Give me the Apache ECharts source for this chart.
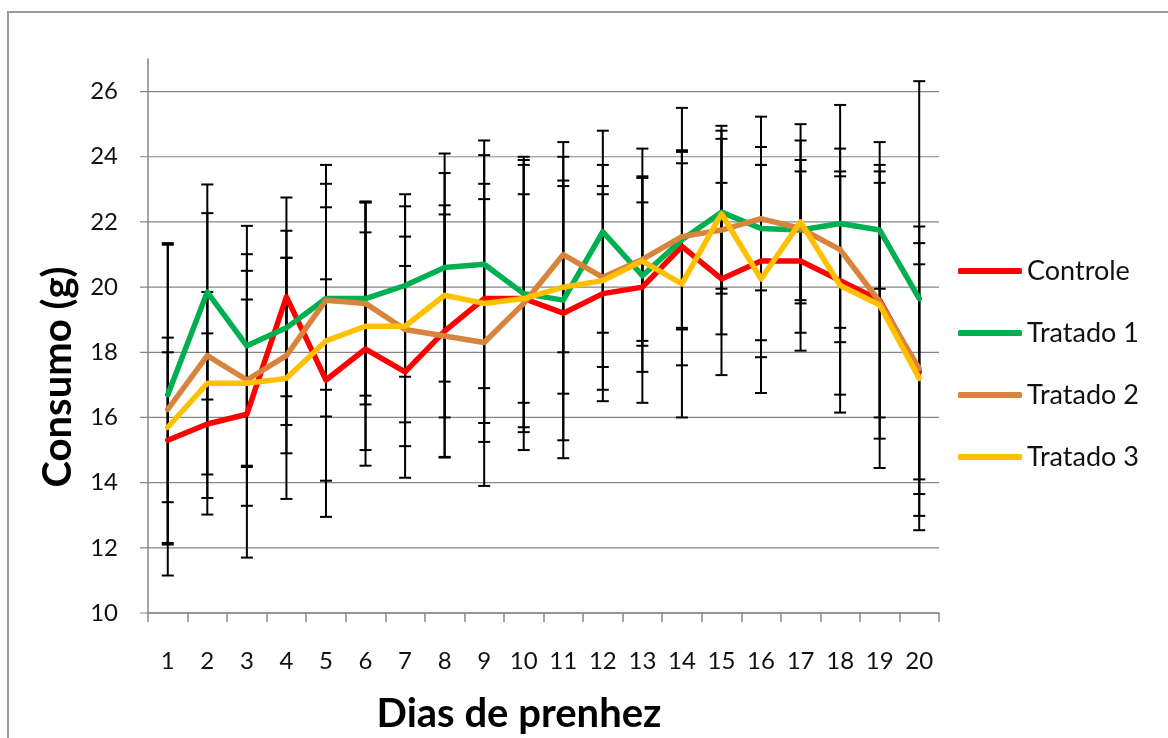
<!DOCTYPE html>
<html>
<head>
<meta charset="utf-8">
<script src="https://cdn.jsdelivr.net/npm/echarts@6/dist/echarts.min.js"></script>
<style>
  html, body { margin: 0; padding: 0; background: #fff; }
  #chart { width: 1168px; height: 738px; }
</style>
</head>
<body>
<div id="chart"></div>
<script>
// Dias de prenhez (categorias do eixo X)
const days = ['1','2','3','4','5','6','7','8','9','10','11','12','13','14','15','16','17','18','19','20'];

// Consumo médio (g) por grupo
const controle = [15.3, 15.8, 16.1, 19.7, 17.15, 18.1, 17.4, 18.65, 19.65, 19.65, 19.2, 19.8, 20.0, 21.25, 20.25, 20.8, 20.8, 20.2, 19.6, 17.4];
const tratado1 = [16.7, 19.85, 18.2, 18.75, 19.65, 19.65, 20.05, 20.6, 20.7, 19.8, 19.6, 21.7, 20.35, 21.45, 22.3, 21.8, 21.75, 21.95, 21.75, 19.65];
const tratado2 = [16.25, 17.9, 17.15, 17.9, 19.6, 19.5, 18.7, 18.5, 18.3, 19.5, 21.0, 20.3, 20.85, 21.55, 21.75, 22.1, 21.8, 21.15, 19.55, 17.5];
const tratado3 = [15.7, 17.05, 17.05, 17.2, 18.35, 18.8, 18.8, 19.75, 19.5, 19.65, 20.0, 20.2, 20.8, 20.1, 22.25, 20.25, 22.0, 20.05, 19.45, 17.2];

// Desvio padrão (barras de erro simétricas)
const dpControle = [3.15, 2.78, 4.4, 3.05, 3.09, 3.58, 3.25, 3.86, 4.4, 3.2, 3.9, 3.3, 2.6, 2.55, 2.95, 2.95, 2.75, 4.05, 3.6, 3.3];
const dpTratado1 = [4.6, 3.3, 3.68, 2.98, 2.8, 2.98, 2.8, 3.5, 3.8, 4.1, 4.85, 3.1, 3.9, 2.7, 2.5, 3.43, 2.15, 3.64, 1.8, 6.67];
const dpTratado2 = [5.1, 4.37, 3.86, 3.0, 3.57, 3.1, 2.85, 3.73, 4.4, 4.5, 3.0, 3.45, 2.5, 3.95, 3.2, 2.2, 3.2, 2.4, 4.2, 3.85];
const dpTratado3 = [2.3, 2.8, 2.57, 3.7, 5.4, 3.8, 3.68, 3.75, 3.67, 4.1, 3.27, 2.65, 2.6, 4.1, 2.3, 3.5, 2.5, 3.35, 5.0, 4.66];

// Marcas do eixo Y
const yTicks = [10, 12, 14, 16, 18, 20, 22, 24, 26];
const yMin = 10, yMax = 27, yStep = 2;

const groups = [
  { name: 'Controle',  values: controle, sd: dpControle, color: '#FF0000' },
  { name: 'Tratado 1', values: tratado1, sd: dpTratado1, color: '#00B050' },
  { name: 'Tratado 2', values: tratado2, sd: dpTratado2, color: '#D8843C' },
  { name: 'Tratado 3', values: tratado3, sd: dpTratado3, color: '#FFC000' }
];

const FONT = 'Lato, "Open Sans", sans-serif';
const AXIS_GRAY = '#868686';

function renderErrorBar(params, api) {
  const x = api.value(0);
  const lo = api.coord([x, api.value(1)]);
  const hi = api.coord([x, api.value(2)]);
  const w = 6;
  const style = { stroke: '#000', lineWidth: 2 };
  return {
    type: 'group',
    children: [
      { type: 'line', shape: { x1: lo[0], y1: lo[1], x2: hi[0], y2: hi[1] }, style },
      { type: 'line', shape: { x1: lo[0] - w, y1: lo[1], x2: lo[0] + w, y2: lo[1] }, style },
      { type: 'line', shape: { x1: hi[0] - w, y1: hi[1], x2: hi[0] + w, y2: hi[1] }, style }
    ]
  };
}

// Linhas de grade horizontais com marca à esquerda do eixo
function renderGridLine(params, api) {
  const cs = params.coordSys;
  const y = api.coord([0, api.value(1)])[1];
  return {
    type: 'line',
    shape: { x1: cs.x - 8, y1: y, x2: cs.x + cs.width, y2: y },
    style: { stroke: AXIS_GRAY, lineWidth: 1.2 }
  };
}

const series = [];

series.push({
  type: 'custom',
  silent: true,
  z: 0,
  renderItem: renderGridLine,
  encode: { x: 0, y: 1 },
  data: yTicks.map(v => [0, v])
});

groups.forEach(g => {
  series.push({
    type: 'custom',
    silent: true,
    z: 1,
    renderItem: renderErrorBar,
    encode: { x: 0, y: [1, 2] },
    data: g.values.map((v, i) => [i, v - g.sd[i], v + g.sd[i]])
  });
});

groups.forEach((g, k) => {
  series.push({
    type: 'line',
    name: g.name,
    data: g.values,
    symbol: 'none',
    z: 2 + k,
    color: g.color,
    lineStyle: { width: 5.5, color: g.color, cap: 'round', join: 'round' }
  });
});

const chart = echarts.init(document.getElementById('chart'), null, { renderer: 'canvas' });
chart.setOption({
  backgroundColor: '#fff',
  animation: false,
  graphic: [
    {
      type: 'rect',
      silent: true,
      shape: { x: 8, y: 12, width: 1300, height: 900 },
      style: { fill: 'none', stroke: '#9a9a9a', lineWidth: 2 }
    },
    {
      type: 'text',
      silent: true,
      x: 519, y: 714,
      style: {
        text: 'Dias de prenhez', fill: '#000',
        font: 'bold 40px ' + FONT, textAlign: 'center', textVerticalAlign: 'middle'
      }
    },
    {
      type: 'text',
      silent: true,
      x: 58, y: 377,
      rotation: Math.PI / 2,
      style: {
        text: 'Consumo (g)', fill: '#000',
        font: 'bold 40px ' + FONT, textAlign: 'center', textVerticalAlign: 'middle'
      }
    }
  ],
  grid: { left: 148, right: 229, top: 59, bottom: 125, containLabel: false },
  legend: {
    orient: 'vertical',
    left: 953,
    top: 251,
    padding: 5,
    icon: 'roundRect',
    itemWidth: 64,
    itemHeight: 6,
    itemGap: 32,
    data: groups.map(g => g.name),
    textStyle: { fontFamily: FONT, fontSize: 27, color: '#111', lineHeight: 30 }
  },
  xAxis: {
    type: 'category',
    data: days,
    boundaryGap: true,
    axisLine: { lineStyle: { color: AXIS_GRAY, width: 1.5 } },
    axisTick: { show: true, length: 9, lineStyle: { color: AXIS_GRAY, width: 1.5 } },
    axisLabel: { fontFamily: FONT, fontSize: 24, color: '#111', margin: 36, interval: 0 },
    splitLine: { show: false }
  },
  yAxis: {
    type: 'value',
    min: yMin,
    max: yMax,
    interval: yStep,
    axisLine: { show: true, lineStyle: { color: AXIS_GRAY, width: 1.5 } },
    axisTick: { show: false },
    axisLabel: {
      fontFamily: FONT, fontSize: 24, color: '#111', margin: 30,
      showMaxLabel: false,
      formatter: v => (yTicks.indexOf(v) >= 0 ? String(v) : '')
    },
    splitLine: { show: false }
  },
  series: series
});
</script>
</body>
</html>
